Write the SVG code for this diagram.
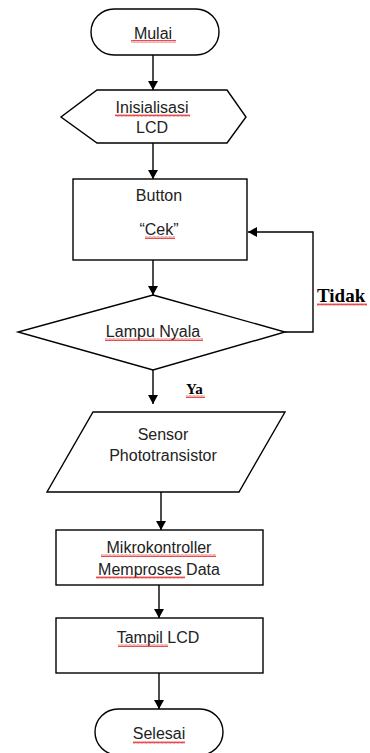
<svg xmlns="http://www.w3.org/2000/svg" width="370" height="753" viewBox="0 0 370 753">
<style>
.s{fill:#fff;stroke:#000;stroke-width:1.4}
.t{font-family:"Liberation Sans",Arial,sans-serif;font-size:16px;fill:#222;text-anchor:middle}
.b{font-family:"Liberation Serif","Times New Roman",serif;font-weight:bold;fill:#000}
.c{fill:none;stroke:#000;stroke-width:1.4}
.w{fill:url(#sq)}
</style>
<defs>
<marker id="ah" markerWidth="10" markerHeight="10" refX="9" refY="5" orient="auto" markerUnits="userSpaceOnUse">
<path d="M0,0 L9,5 L0,10 Z" fill="#000"/>
</marker>
<pattern id="sq" width="4" height="3" patternUnits="userSpaceOnUse">
<polyline points="0,2.5 1,0.5 2,2.5 3,0.5 4,2.5" fill="none" stroke="#e02020" stroke-width="0.8"/>
</pattern>
</defs>
<rect width="370" height="753" fill="#fff"/>
<g id="connectors">
<line class="c" x1="153" y1="55" x2="153" y2="90" marker-end="url(#ah)"/>
<line class="c" x1="153" y1="143" x2="153" y2="179" marker-end="url(#ah)"/>
<line class="c" x1="153" y1="260" x2="153" y2="295" marker-end="url(#ah)"/>
<polyline class="c" points="285,332 313,332 313,232 248,232" marker-end="url(#ah)"/>
<line class="c" x1="153" y1="370" x2="153" y2="404" marker-end="url(#ah)"/>
<line class="c" x1="161" y1="492" x2="161" y2="530" marker-end="url(#ah)"/>
<line class="c" x1="159" y1="585" x2="159" y2="618" marker-end="url(#ah)"/>
<line class="c" x1="159" y1="673" x2="159" y2="709" marker-end="url(#ah)"/>
<text class="b" x="317" y="302" font-size="19">Tidak</text>
<rect class="w" x="317" y="303" width="50" height="3"/>
<text class="b" x="186" y="394" font-size="15">Ya</text>
<rect class="w" x="186" y="395" width="19" height="3"/>
</g>
<g id="mulai">
<rect class="s" x="91" y="9" width="128" height="46" rx="23"/>
<text class="t" x="153" y="39">Mulai</text>
<rect class="w" x="131" y="40" width="45" height="3"/>
</g>
<g id="inisialisasi">
<polygon class="s" points="97,90 227,90 246,117 227,143 97,143 61,117"/>
<text class="t" x="152" y="113">Inisialisasi</text>
<rect class="w" x="115" y="114" width="75" height="3"/>
<text class="t" x="152" y="133">LCD</text>
</g>
<g id="button">
<rect class="s" x="73" y="179" width="174" height="81"/>
<text class="t" x="159" y="201">Button</text>
<text class="t" x="159" y="235">“Cek”</text>
<rect class="w" x="145" y="236" width="30" height="3"/>
</g>
<g id="lampu">
<polygon class="s" points="153,295 285,332 153,370 18,332"/>
<text class="t" x="153" y="337">Lampu Nyala</text>
<rect class="w" x="105" y="338" width="98" height="3"/>
</g>
<g id="sensor">
<polygon class="s" points="93,412 285,412 239,492 47,492"/>
<text class="t" x="163" y="440">Sensor</text>
<text class="t" x="163" y="461">Phototransistor</text>
</g>
<g id="mikro">
<rect class="s" x="56" y="530" width="207" height="55"/>
<text class="t" x="159" y="553">Mikrokontroller</text>
<rect class="w" x="101" y="554" width="115" height="3"/>
<text class="t" x="159" y="575">Memproses Data</text>
<rect class="w" x="96" y="576" width="89" height="3"/>
</g>
<g id="tampil">
<rect class="s" x="56" y="618" width="207" height="55"/>
<text class="t" x="158" y="643">Tampil LCD</text>
<rect class="w" x="118" y="644" width="50" height="3"/>
</g>
<g id="selesai">
<rect class="s" x="95" y="709" width="128" height="46" rx="23"/>
<text class="t" x="159" y="739">Selesai</text>
<rect class="w" x="133" y="741" width="52" height="3"/>
</g>
</svg>
